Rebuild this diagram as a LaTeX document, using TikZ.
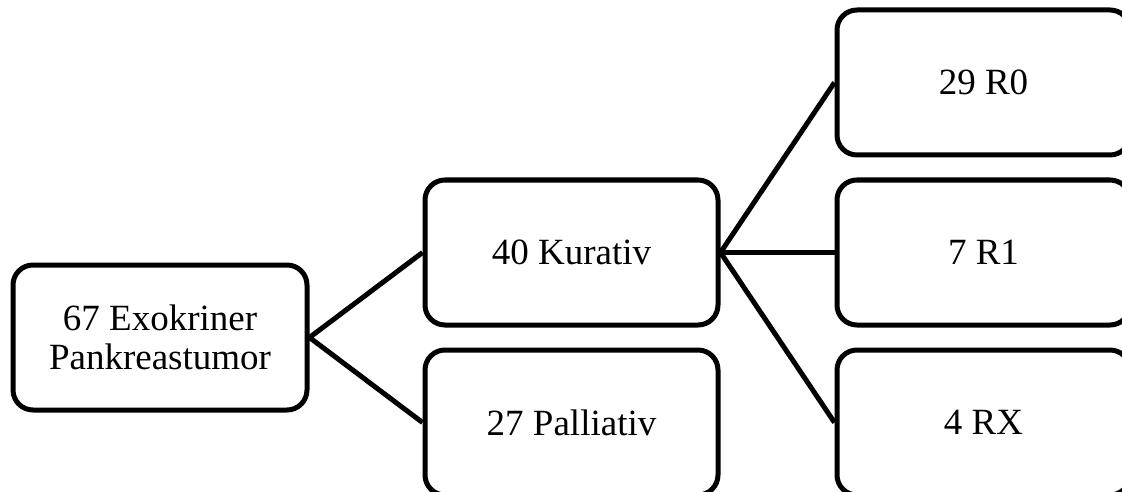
\documentclass[tikz,border=0pt]{standalone}
\usepackage{fontspec}
\setmainfont{Liberation Serif}
\begin{document}
\begin{tikzpicture}[x=1pt, y=-1pt,
  box/.style={draw, line width=5pt, rounded corners=20pt, minimum width=293pt,
    minimum height=145pt, align=center, font=\fontsize{37}{39}\selectfont},
  link/.style={line width=5pt}]
  \useasboundingbox (0,0) rectangle (1122,492);
  \node (A) at (160,337.5) [box, minimum width=294pt] {67 Exokriner\\Pankreastumor};
  \node (B) at (571.5,252.5) [box] {40 Kurativ};
  \node (C) at (571.5,422.5) [box] {27 Palliativ};
  \node (D) at (983.5,82.5) [box] {29 R0};
  \node (E) at (983.5,252.5) [box] {7 R1};
  \node (F) at (983.5,422.5) [box] {4 RX};
  \draw[link] (A.east) -- (B.west);
  \draw[link] (A.east) -- (C.west);
  \draw[link] (B.east) -- (D.west);
  \draw[link] (B.east) -- (E.west);
  \draw[link] (B.east) -- (F.west);
\end{tikzpicture}
\end{document}
